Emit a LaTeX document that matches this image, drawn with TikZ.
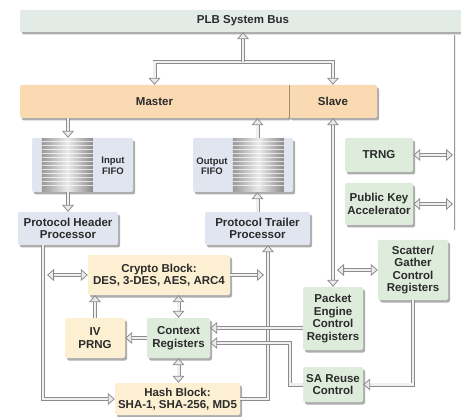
\documentclass[tikz,border=0pt]{standalone}
\usepackage{fontspec}
\setmainfont{Liberation Sans}
\usepackage{tikz}
\usetikzlibrary{arrows.meta,shadows,calc}

\definecolor{busfill}{HTML}{E3EBE6}
\definecolor{mastfill}{HTML}{F9DAB2}
\definecolor{creamfill}{HTML}{FDF0D2}
\definecolor{greenfill}{HTML}{DDECDB}
\definecolor{bluefill}{HTML}{E1E5F0}
\definecolor{inktext}{HTML}{2B2B2B}

\begin{document}
\begin{tikzpicture}[x=1pt,y=-1pt,
  box/.style={rounded corners=2pt, inner sep=1pt, align=center, text=inktext,
    font=\bfseries\fontsize{11.5}{12.5}\selectfont,
    drop shadow={shadow xshift=2pt, shadow yshift=-2.5pt, fill=black!40, opacity=.8}},
  busbar/.style={box, fill=busfill},
  orangebox/.style={box, fill=mastfill},
  bluebox/.style={box, fill=bluefill},
  greenbox/.style={box, fill=greenfill},
  creambox/.style={box, fill=creamfill},
  fifotext/.style={align=center, text=inktext, inner sep=0pt,
    font=\bfseries\fontsize{9.5}{10.5}\selectfont},
  pipe/.style={draw=black!45, double=black!6, double distance=2.4pt, line width=0.8pt,
    >={Triangle[length=7pt,width=12pt,fill=black!8,line width=0.8pt]}},
  rail/.style={draw=black!40, double=black!6, double distance=1pt, line width=0.6pt}]

  \useasboundingbox (0,0) rectangle (461,417);

  % bus and bus interface
  \node[busbar, minimum width=446pt, minimum height=22pt] (bus) at (243,21) {PLB System Bus};
  \node[orangebox, minimum width=269pt, minimum height=33pt] (master) at (154.5,101.5) {Master};
  \node[orangebox, minimum width=88pt, minimum height=33pt] (slave) at (333,101.5) {Slave};
  \draw[black!20!mastfill!80!black, line width=0.6pt] (slave.north west) -- (slave.south west);

  % fifos and protocol processors
  \node[bluebox, minimum width=101pt, minimum height=54pt] (infifo) at (82.5,165) {};
  \node[bluebox, minimum width=100pt, minimum height=54pt] (outfifo) at (243,165) {};
  \foreach \f/\dx in {infifo/10, outfifo/40} {
    \shade[left color=black!40, right color=black!45, middle color=black!8]
      ($(\f.north west)+(\dx,1)$) rectangle ($(\f.south west)+(\dx+51,-1)$);
    \foreach \k in {1,...,12}
      \draw[white, opacity=.7, line width=0.8pt] ($(\f.north west)+(\dx,4*\k)$) -- ++(51,0);
  }
  \node[fifotext] (intext) at (113,166) {Input\\FIFO};
  \node[fifotext] (outtext) at (212,166) {Output\\FIFO};
  \node[bluebox, minimum width=100pt, minimum height=33pt] (header) at (68,228.5) {Protocol Header\\Processor};
  \node[bluebox, minimum width=105pt, minimum height=33pt] (trailer) at (257.5,228.5) {Protocol Trailer\\Processor};

  % right hand blocks
  \node[greenbox, minimum width=68pt, minimum height=34pt] (trng) at (379,155) {TRNG};
  \node[greenbox, minimum width=68pt, minimum height=42pt] (pka) at (379,204) {Public Key\\Accelerator};
  \node[greenbox, minimum width=70pt, minimum height=60pt] (sg) at (413,270) {Scatter/\\Gather\\Control\\Registers};
  \node[greenbox, minimum width=60pt, minimum height=63pt] (engine) at (333,318.5) {Packet\\Engine\\Control\\Registers};
  \node[greenbox, minimum width=60pt, minimum height=35pt] (reuse) at (333,384.5) {SA Reuse\\Control};

  % crypto core
  \node[creambox, minimum width=142pt, minimum height=40pt] (crypto) at (159,275) {Crypto Block:\\DES, 3-DES, AES, ARC4};
  \node[creambox, minimum width=60pt, minimum height=40pt] (iv) at (95,338) {IV\\PRNG};
  \node[greenbox, minimum width=63pt, minimum height=40pt] (context) at (178.5,338) {Context\\Registers};
  \node[creambox, minimum width=125pt, minimum height=32pt] (hash) at (177.5,399) {Hash Block:\\SHA-1, SHA-256, MD5};

  % bus connections
  \coordinate (tee) at (243,62);
  \draw[pipe,<->] (master.north) |- (tee) -| (slave.north);
  \draw[pipe,->] (tee) -- (tee |- bus.south);
  \coordinate (railtop) at (455,35);
  \coordinate (railbot) at (455,230);
  \draw[rail] (railtop) -- (railbot);
  \draw[pipe,<->] (trng.east) -- ($(trng.east -| railtop)+(-2,0)$);
  \draw[pipe,<->] (pka.east) -- ($(pka.east -| railtop)+(-2,0)$);

  % data path through fifos
  \draw[pipe,->] (header |- master.south) -- (header |- infifo.north);
  \draw[pipe,->] (header |- infifo.south) -- (header.north);
  \draw[pipe,->] (trailer.north) -- (trailer |- outfifo.south);
  \draw[pipe,->] (trailer |- outfifo.north) -- (trailer |- master.south);

  % slave side
  \draw[pipe,<->] (slave.south) -- (engine.north);
  \draw[pipe,<->] (sg.west) -- ($(sg.west -| slave)+(4,0)$);
  \draw[pipe,->] (sg.south) |- (reuse.east);

  % header and trailer lines
  \coordinate (hdrline) at ($(header.south)+(-25,0)$);
  \coordinate (trlline) at ($(trailer.south)+(10.5,0)$);
  \draw[pipe,->] (hdrline) |- (hash.west);
  \draw[pipe,<->] (crypto.west) -- ($(crypto.west -| hdrline)+(4,0)$);
  \draw[pipe,->] (hash.east) -| (trlline);
  \draw[pipe,->] (crypto.east) -- ($(crypto.east -| trlline)+(-4,0)$);

  % context registers
  \coordinate (ctxa) at ($(context.east)+(0,-10)$);
  \coordinate (ctxb) at ($(context.east)+(0,5)$);
  \draw[pipe,<->] (context.north) -- (context |- crypto.south);
  \draw[pipe,<->] (context.south) -- (context |- hash.north);
  \draw[pipe,->] (context.west) -- (iv.east);
  \draw[pipe,->] (iv.north) -- (iv |- crypto.south);
  \draw[pipe,->] (engine.west |- ctxa) -- (ctxa);
  \draw[pipe,->] (reuse.west) -- ++(-13,0) |- (ctxb);

\end{tikzpicture}
\end{document}
